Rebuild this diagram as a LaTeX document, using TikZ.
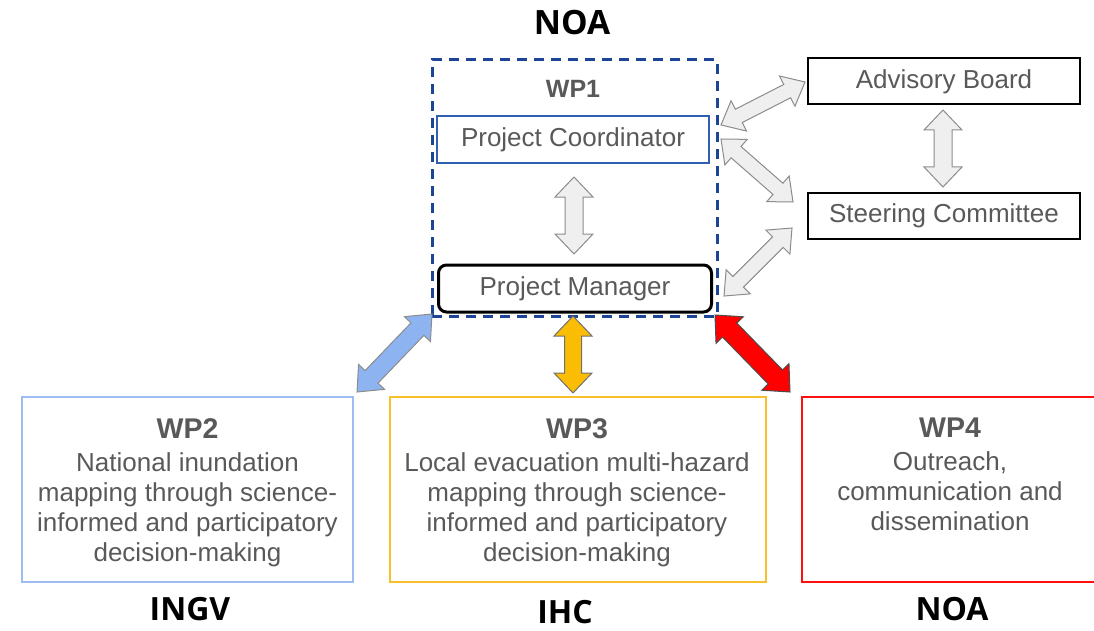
\documentclass[tikz,border=0pt]{standalone}
\usepackage{fontspec}
\setmainfont{Liberation Sans}
\newfontfamily\lblfont{Open Sans}
\usetikzlibrary{calc}
\definecolor{txtgray}{HTML}{595959}
\definecolor{dkblue}{HTML}{1C4595}
\definecolor{pcblue}{HTML}{2F5FB0}
\definecolor{wpblue}{HTML}{9DBDF2}
\definecolor{wpyellow}{HTML}{F7C12B}
\definecolor{wpred}{HTML}{FF1010}
\definecolor{arrgrayfill}{HTML}{EFEFEF}
\definecolor{arrgraydraw}{HTML}{8C8C8C}
\definecolor{arrblue}{HTML}{8DB3F0}
\definecolor{arryellow}{HTML}{FBBC04}
\definecolor{arrred}{HTML}{FF0000}
\newcommand{\fatarrow}[6]{%
  \coordinate (fa-ha) at ($(#2)!#6!(#3)$);
  \coordinate (fa-hb) at ($(#3)!#6!(#2)$);
  \draw[#1] (#2) -- ($(fa-ha)!#5!90:(#3)$) -- ($(fa-ha)!#4!90:(#3)$)
    -- ($(fa-hb)!#4!-90:(#2)$) -- ($(fa-hb)!#5!-90:(#2)$) -- (#3)
    -- ($(fa-hb)!#5!90:(#2)$) -- ($(fa-hb)!#4!90:(#2)$)
    -- ($(fa-ha)!#4!-90:(#3)$) -- ($(fa-ha)!#5!-90:(#3)$) -- cycle;
}
\tikzset{
  orglabel/.style={font=\lblfont\bfseries\fontsize{32}{36}\selectfont, text=black, inner sep=0pt, anchor=base},
  boxtext/.style={font=\fontsize{26}{30}\selectfont, text=txtgray, inner sep=0pt},
  wptext/.style={boxtext, align=center, anchor=north},
  smallbox/.style={draw, line width=2pt, inner sep=0pt, minimum height=47pt, boxtext},
  wpbox/.style={draw, line width=2pt, inner sep=0pt},
  grayarrow/.style={fill=arrgrayfill, draw=arrgraydraw, line width=1pt, line join=miter},
}
\newcommand{\wptitle}[1]{{\bfseries\fontsize{28.5}{30}\selectfont #1}}
\begin{document}
\begin{tikzpicture}[x=1pt,y=-1pt]
\useasboundingbox (0,0) rectangle (1094,631);
% top label
\node[orglabel, font=\lblfont\bfseries\fontsize{33.5}{36}\selectfont] (noatop) at (572,35) {NOA};
% WP1 dashed container
\node[draw=dkblue, line width=3pt, dash pattern=on 10pt off 7pt, minimum width=285pt, minimum height=256pt, inner sep=0pt] (wp1) at (574.5,188) {};
\node[font=\bfseries\fontsize{25}{30}\selectfont, text=txtgray, inner sep=0pt, anchor=base] (wp1lbl) at (573,98) {WP1};
\node[smallbox, draw=pcblue, line width=1.6pt, minimum width=272pt] (pc) at (573,139.5) {Project Coordinator};
\node[smallbox, draw=black, line width=3pt, rounded corners=8pt, minimum width=273pt] (pm) at (575,288.5) {Project Manager};
% right boxes
\node[smallbox, draw=black, minimum width=272pt, minimum height=46pt] (ab) at (944,81.5) {Advisory Board};
\node[smallbox, draw=black, minimum width=272pt, minimum height=46pt] (sc) at (944,216) {Steering Committee};
% WP boxes
\node[wpbox, draw=wpblue, minimum width=331pt, minimum height=185pt] (wp2) at (187.5,489.5) {};
\node[wpbox, draw=wpyellow, minimum width=376pt, minimum height=185pt] (wp3) at (578,489.5) {};
\node[wpbox, draw=wpred, minimum width=294pt, minimum height=185pt] (wp4) at (949,489.5) {};
\node[wptext] (wp2t) at (187.5,418) {\wptitle{WP2}\\[3pt]National inundation\\mapping through science-\\informed and participatory\\decision-making};
\node[wptext] (wp3t) at (577,418) {\wptitle{WP3}\\[3pt]Local evacuation multi-hazard\\mapping through science-\\informed and participatory\\decision-making};
\node[wptext] (wp4t) at (950,418) {\wptitle{WP4}\\[3pt]Outreach,\\communication and\\dissemination};
% bottom labels
\node[orglabel] (ingv) at (190,620) {INGV};
\node[orglabel] (ihc) at (565,623) {IHC};
\node[orglabel] (noabot) at (952,620) {NOA};
% arrow end points
\coordinate (pcE1) at (721,125);
\coordinate (abW) at (805,82);
\coordinate (pcE2) at (721,139);
\coordinate (scW1) at (793,202);
\coordinate (scW2) at (792,228);
\coordinate (pmE) at (724,296);
\coordinate (abS) at (943,110);
\coordinate (scN) at (943,187);
\coordinate (pcS) at (574,177);
\coordinate (pmN) at (574,254);
\coordinate (wp1SW) at (432,314);
\coordinate (wp2NE) at (357,392);
\coordinate (wp1S) at (573,316);
\coordinate (wp3N) at (573,393);
\coordinate (wp1SE) at (715,315);
\coordinate (wp4NW) at (790,392);
% gray arrows
\fatarrow{grayarrow}{pcE1}{abW}{7.5pt}{17pt}{20pt}
\fatarrow{grayarrow}{pcE2}{scW1}{7.5pt}{17pt}{20pt}
\fatarrow{grayarrow}{pmE}{scW2}{7.5pt}{17pt}{20pt}
\fatarrow{grayarrow}{abS}{scN}{9pt}{19pt}{20pt}
\fatarrow{grayarrow}{pcS}{pmN}{9pt}{19pt}{20pt}
% coloured arrows
\fatarrow{fill=arrblue, draw=arrgraydraw, line width=1pt}{wp1SW}{wp2NE}{9pt}{18pt}{21pt}
\fatarrow{fill=arryellow, draw=arrgraydraw!80!black, line width=1pt}{wp1S}{wp3N}{8.5pt}{19pt}{20pt}
\fatarrow{fill=arrred, draw=black!70, line width=1pt}{wp1SE}{wp4NW}{10pt}{19pt}{21pt}
\end{tikzpicture}
\end{document}
